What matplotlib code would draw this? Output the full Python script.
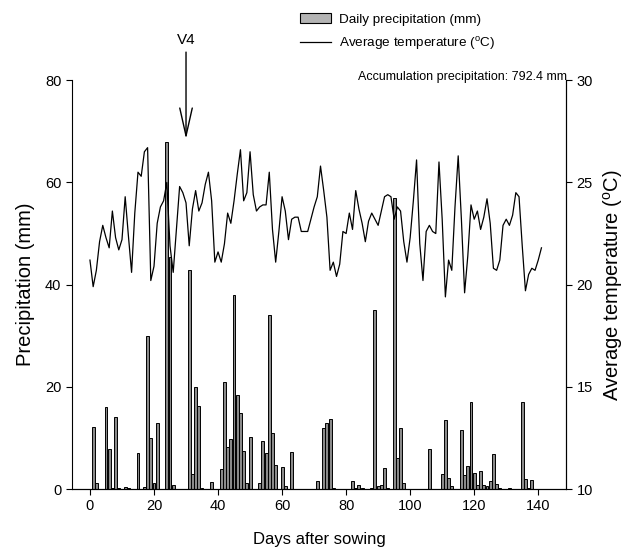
import numpy as np
import matplotlib
matplotlib.use("Agg")
import matplotlib.pyplot as plt
from matplotlib.patches import Patch
from matplotlib.lines import Line2D

plt.rcParams['font.family'] = ['Liberation Sans', 'DejaVu Sans']

# daily precipitation (mm) on the days it rained
rain_days = [1, 2, 5, 6, 7, 8, 9, 11, 12, 15, 17, 18, 19, 20, 21, 24, 25, 26, 30, 31,
             32, 33, 34, 35, 38, 41, 42, 43, 44, 45, 46, 47, 48, 49, 50, 52, 53, 54, 55, 56,
             57, 58, 60, 61, 63, 64, 66, 67, 68, 71, 73, 74, 75, 76, 82, 83, 84, 85, 88, 89,
             90, 91, 92, 93, 95, 96, 97, 98, 106, 107, 110, 111, 112, 113, 116, 117, 118, 119, 120, 121,
             122, 123, 124, 125, 126, 127, 128, 131, 135, 136, 137, 138]
rain_mm = [12.2, 1.1, 16.0, 7.8, 0.2, 14.0, 0.2, 0.4, 0.2, 7.1, 0.4, 30.0, 10.0, 1.2, 13.0, 68.0, 45.5, 0.7, 0.1, 42.8,
           2.9, 20.0, 16.3, 0.3, 1.3, 3.9, 21.0, 8.3, 9.8, 38.0, 18.4, 14.8, 7.5, 1.2, 10.1, 0.1, 1.1, 9.4, 7.0, 34.0,
           10.9, 4.7, 4.4, 0.6, 7.3, 0.1, 0.1, 0.1, 0.1, 1.6, 11.9, 13.0, 13.7, 0.3, 1.6, 0.3, 0.7, 0.3, 0.3, 35.0,
           0.5, 0.8, 4.2, 0.3, 57.0, 6.1, 12.0, 1.1, 7.8, 0.1, 2.9, 13.6, 2.1, 0.6, 11.5, 2.7, 4.5, 17.0, 3.1, 0.7,
           3.5, 0.7, 0.5, 1.6, 6.8, 0.9, 0.2, 0.3, 17.0, 1.9, 0.2, 1.8]

# average daily temperature (degC), days 0..141
temp = [21.2, 19.9, 20.7, 22.1, 22.9, 22.3, 21.8, 23.6, 22.3, 21.7,
        22.2, 24.3, 22.4, 20.6, 23.5, 25.5, 25.3, 26.5, 26.7, 20.2,
        20.9, 23.0, 23.8, 24.1, 25.0, 21.9, 20.6, 22.7, 24.8, 24.5,
        24.0, 21.9, 23.7, 24.6, 23.6, 24.0, 24.9, 25.5, 24.1, 21.1,
        21.6, 21.1, 22.0, 23.5, 23.0, 24.1, 25.4, 26.6, 24.1, 24.5,
        26.5, 24.4, 23.6, 23.8, 23.9, 23.9, 25.5, 22.7, 21.1, 22.6,
        24.3, 23.6, 22.2, 23.2, 23.3, 23.3, 22.6, 22.6, 22.6, 23.2,
        23.8, 24.3, 25.8, 24.6, 23.3, 20.7, 21.1, 20.4, 21.0, 22.6,
        22.5, 23.5, 22.7, 24.6, 23.7, 23.0, 22.1, 23.1, 23.5, 23.2,
        22.9, 23.6, 24.3, 24.4, 24.3, 23.2, 23.8, 23.6, 22.1, 21.1,
        22.3, 24.1, 26.1, 22.0, 20.2, 22.6, 22.9, 22.6, 22.5, 26.0,
        23.2, 19.4, 21.2, 20.7, 23.8, 26.3, 23.2, 19.6, 21.4, 23.9,
        23.2, 23.6, 22.7, 23.3, 24.2, 23.0, 20.8, 20.7, 21.2, 22.9,
        23.2, 22.9, 23.4, 24.5, 24.3, 21.9, 19.7, 20.5, 20.8, 20.7,
        21.2, 21.8]
temp_days = np.arange(len(temp))

v4_day = 30
total_rain = "792.4"

fig = plt.figure(figsize=(6.29, 5.57), dpi=100)
ax = fig.add_axes([0.114, 0.122, 0.786, 0.734])
ax2 = ax.twinx()

ax.bar(rain_days, rain_mm, width=0.9, color='#8a8a8a', edgecolor='black', linewidth=0.7)
ax2.plot(temp_days, temp, color='black', linewidth=0.9)

ax.set_xlim(-5.7, 148.7)
ax.set_ylim(0, 80)
ax2.set_ylim(10, 30)
ax.set_xticks(np.arange(0, 141, 20))
ax.set_yticks(np.arange(0, 81, 20))
ax2.set_yticks(np.arange(10, 31, 5))

for a in (ax, ax2):
    a.spines['top'].set_visible(False)
    a.tick_params(direction='out', length=4, width=0.8, labelsize=10.5)
ax2.spines['left'].set_visible(False)

ax.set_xlabel('Days after sowing', fontsize=12, labelpad=13)
ax.set_ylabel('Precipitation (mm)', fontsize=14.5, labelpad=7)
ax2.set_ylabel(r'Average temperature ($^\mathregular{o}$C)', fontsize=14.5, labelpad=6)

# V4 stage arrow
ax.annotate('', xy=(v4_day, 68.5), xytext=(v4_day, 85.5), annotation_clip=False,
            arrowprops=dict(arrowstyle='->,head_length=2.0,head_width=0.45',
                            lw=1, color='black', mutation_scale=10, shrinkA=0, shrinkB=0))
ax.text(v4_day, 87.8, 'V4', ha='center', va='center', fontsize=11, clip_on=False)

handles = [Patch(facecolor='#b4b4b4', edgecolor='black', linewidth=0.8),
           Line2D([], [], color='black', linewidth=0.9)]
fig.legend(handles, ['Daily precipitation (mm)', r'Average temperature ($^\mathregular{o}$C)'],
           loc='upper left', bbox_to_anchor=(0.477, 0.976), frameon=False, fontsize=9.7,
           borderpad=0, borderaxespad=0, handlelength=2.3, handletextpad=0.6, labelspacing=0.65)

fig.text(0.569, 0.862, 'Accumulation precipitation: ' + total_rain + ' mm',
         fontsize=9.0, va='center', ha='left')

fig.savefig('out.png', dpi=100)
